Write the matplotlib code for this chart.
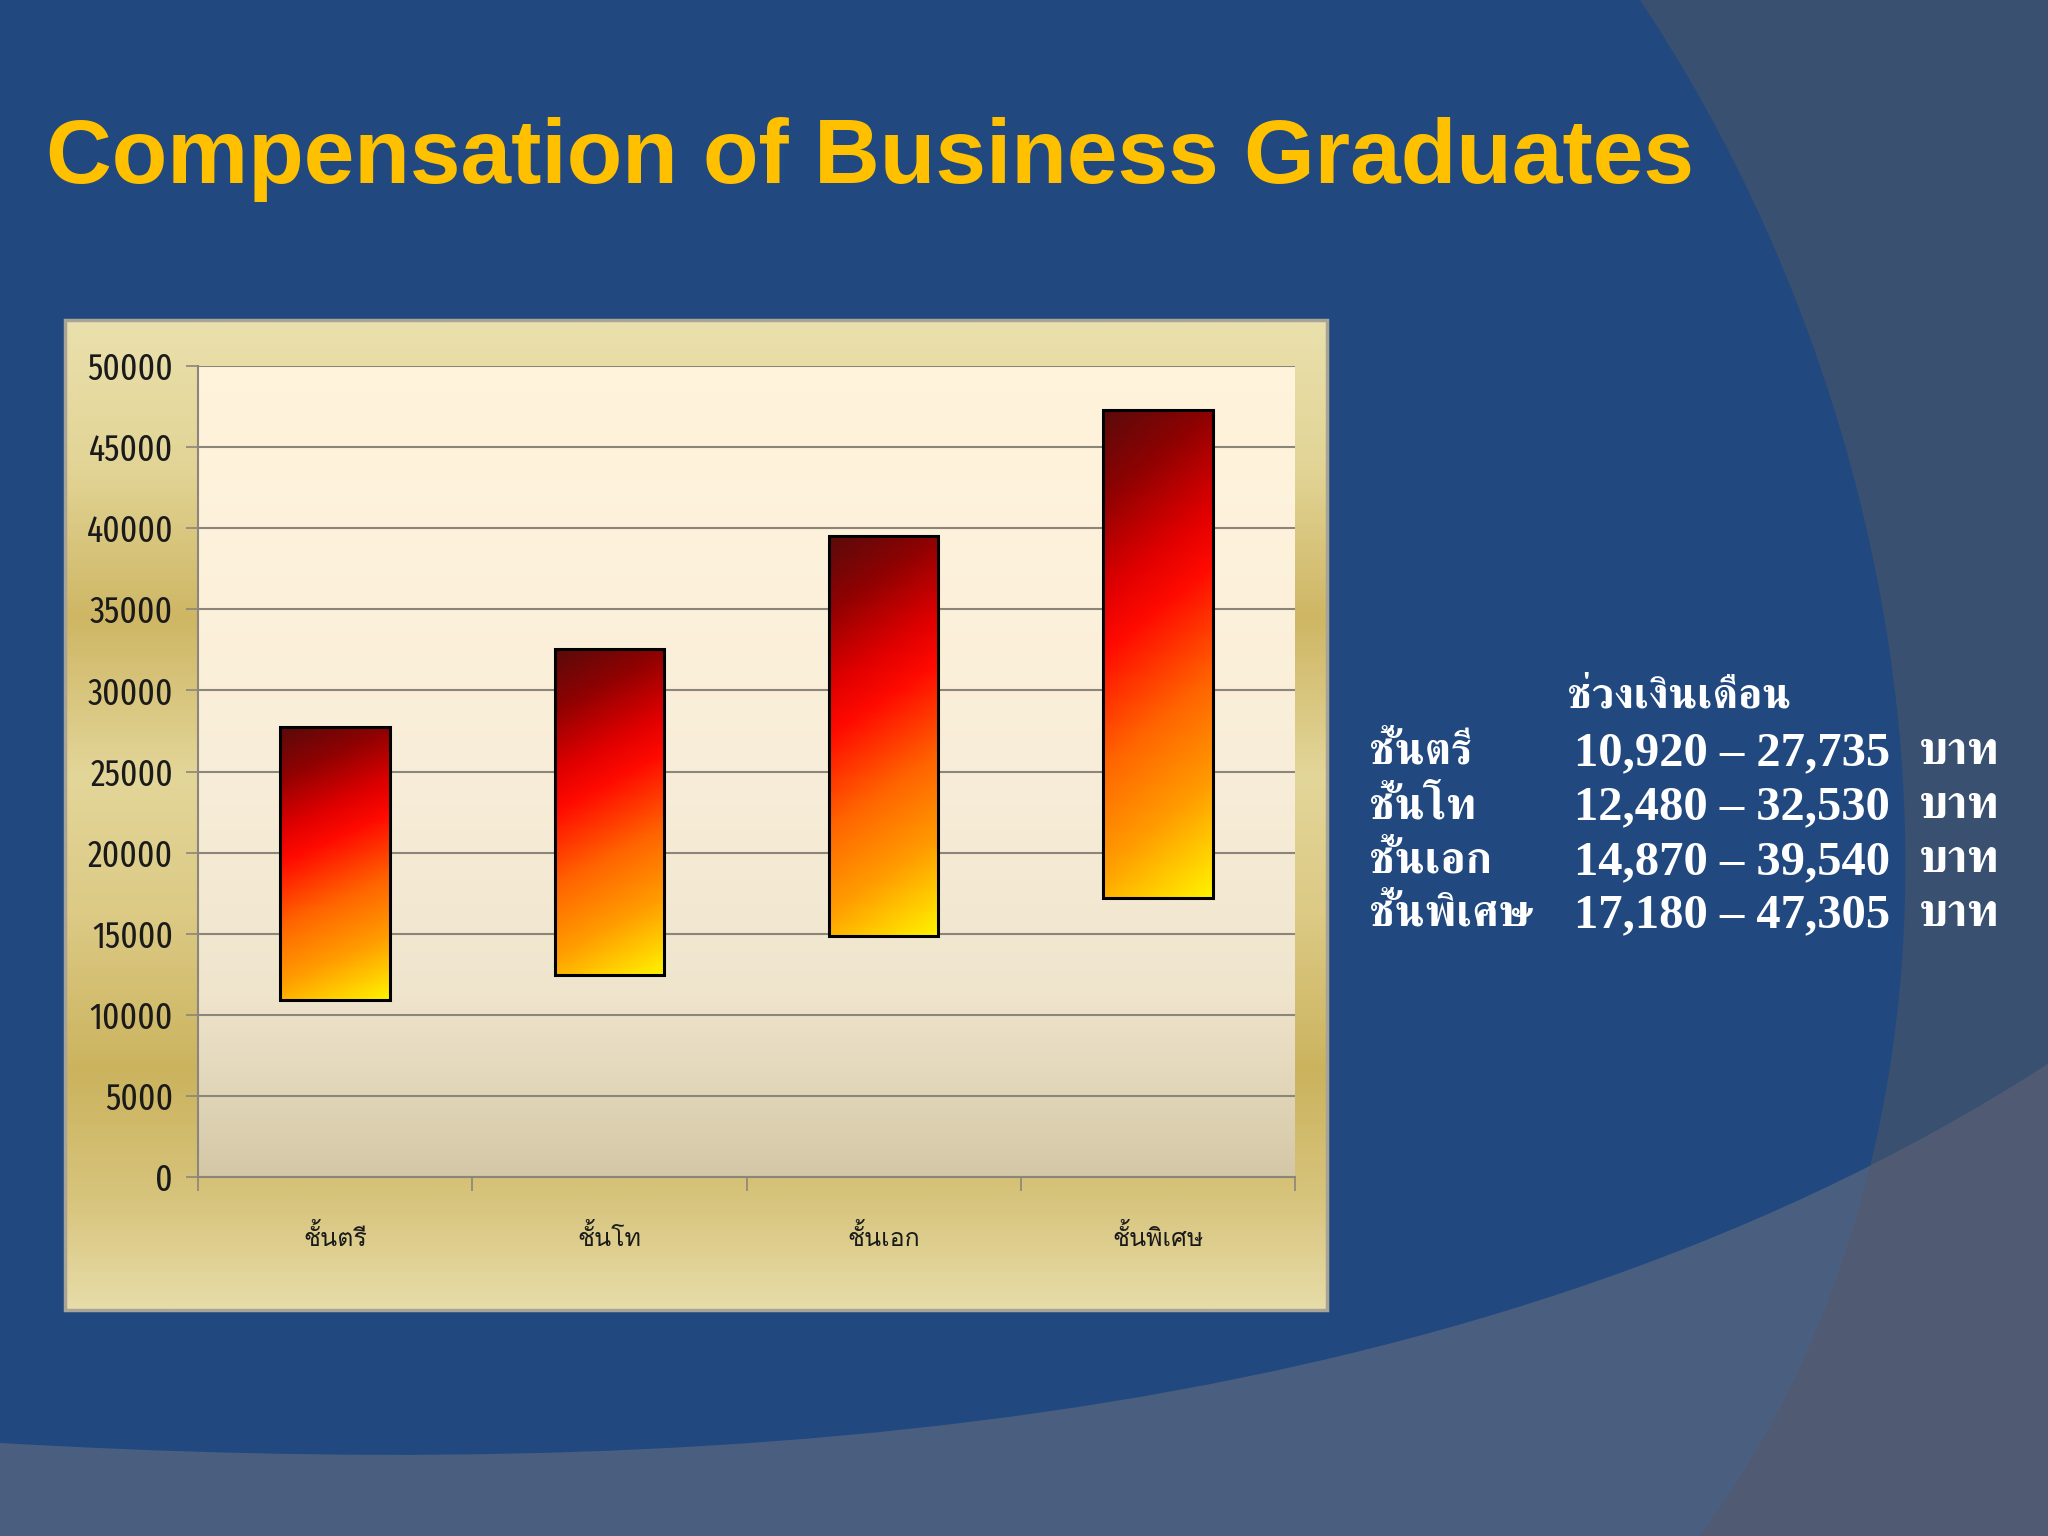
import numpy as np
import matplotlib
matplotlib.use('Agg')
import matplotlib.pyplot as plt
from matplotlib import font_manager, ft2font
from matplotlib.colors import LinearSegmentedColormap
from matplotlib.patches import Rectangle, PathPatch
from matplotlib.path import Path

# ── data ──────────────────────────────────────────────────────────────────
categories = ['ชั้นตรี', 'ชั้นโท', 'ชั้นเอก', 'ชั้นพิเศษ']
salary_low = [10920, 12480, 14870, 17180]
salary_high = [27735, 32530, 39540, 47305]
y_ticks = list(range(0, 50001, 5000))
range_header = 'ช่วงเงินเดือน'
unit_label = 'บาท'
title = 'Compensation of Business Graduates'


def pick(prefs, char=0x0E0A, fallback='DejaVu Sans'):
    # first family in prefs that is installed and has the glyph
    for name in prefs:
        try:
            path = font_manager.findfont(font_manager.FontProperties(family=name),
                                         fallback_to_default=False)
            if ft2font.FT2Font(path).get_char_index(char):
                return name
        except Exception:
            pass
    return fallback


# TLWG fonts stack the Thai tone marks without shaping, so prefer them
thai_serif = pick(['Norasi', 'Kinnari', 'FreeSerif'])
thai_label = pick(['Laksaman', 'Loma', 'Umpush', 'Garuda'])
digit_font = pick(['Fira Sans Extra Condensed', 'Barlow Condensed', 'Liberation Sans'], char=0x35)

W, H = 2048, 1536
fig = plt.figure(figsize=(W / 100, H / 100), dpi=100)

# ── slide background (pixel coords) ───────────────────────────────────────
bg = fig.add_axes([0, 0, 1, 1])
bg.set_xlim(0, W)
bg.set_ylim(H, 0)
bg.axis('off')
bg.add_patch(Rectangle((0, 0), W, H, color='#21497F', zorder=0))

C4 = Path.CURVE4
right_path = Path([(1640, 0), (1940, 450), (2020, 1100), (1700, 1536),
                   (W, H), (W, 0), (1640, 0)],
                  [Path.MOVETO, C4, C4, C4, Path.LINETO, Path.LINETO, Path.CLOSEPOLY])
band_path = Path([(0, 1443), (650, 1480), (1450, 1450), (W, 1064),
                  (W, H), (0, H), (0, 1443)],
                 [Path.MOVETO, C4, C4, C4, Path.LINETO, Path.LINETO, Path.CLOSEPOLY])
right_shape = PathPatch(right_path, facecolor='#3A5070', edgecolor='none', zorder=1)
bg.add_patch(right_shape)
bg.add_patch(PathPatch(band_path, facecolor='#4A5F80', edgecolor='none', zorder=2))
overlap = PathPatch(band_path, facecolor='#505A73', edgecolor='none', zorder=3)
bg.add_patch(overlap)
overlap.set_clip_path(right_shape)

bg.text(46, 183, title, fontsize=65.5, fontweight='bold', color='#FFC000',
        family='Liberation Sans', ha='left', va='baseline', zorder=5)

# gold panel behind the chart: vertical metallic gradient
px0, px1, py0, py1 = 65, 1327, 320, 1310
gold_cmap = LinearSegmentedColormap.from_list('gold', [
    (0.0, '#EAE0AD'), (0.15, '#E2D495'), (0.30, '#CEB664'), (0.46, '#E3D699'),
    (0.60, '#DCCA85'), (0.76, '#CBB35E'), (0.89, '#D7C47C'), (1.0, '#E7DCA8')])
bg.imshow(np.linspace(0, 1, 400)[:, None], cmap=gold_cmap, extent=(px0, px1, py1, py0),
          aspect='auto', zorder=4)
bg.add_patch(Rectangle((px0, py0), px1 - px0, py1 - py0, fill=False,
                       edgecolor='#A8A498', linewidth=2.5, zorder=6))

# ── right hand text block ─────────────────────────────────────────────────
bg.text(1567, 698, range_header, fontsize=31, color='white', family=thai_serif,
        fontweight='bold', ha='left', va='center', zorder=6)
row_y = [753, 807, 862, 915]
for i, cat in enumerate(categories):
    bg.text(1369, row_y[i], cat, fontsize=32, color='white', family=thai_serif,
            fontweight='bold', ha='left', va='center', zorder=6)
    bg.text(1574, row_y[i], f'{salary_low[i]:,} – {salary_high[i]:,}', fontsize=35,
            color='white', family='Liberation Serif', fontweight='bold',
            ha='left', va='center', zorder=6)
    bg.text(1919, row_y[i], unit_label, fontsize=34, color='white', family=thai_serif,
            fontweight='bold', ha='left', va='center', zorder=6)

# ── chart ─────────────────────────────────────────────────────────────────
ax = fig.add_axes([198 / W, 1 - 1177 / H, (1295 - 198) / W, (1177 - 366) / H])
ax.set_zorder(5)
x = np.arange(len(categories))

plot_cmap = LinearSegmentedColormap.from_list('plot', ['#FFF3DC', '#F8EDD8', '#EFE4CC', '#D5C8A7'])
grad = np.linspace(0, 1, 256)[:, None] ** 1.6
ax.imshow(grad, cmap=plot_cmap, extent=(-0.5, 3.5, 0, 50000), aspect='auto', origin='upper', zorder=0)

bar_cmap = LinearSegmentedColormap.from_list(
    'bar', [(0.0, '#5A0A0A'), (0.15, '#8E0202'), (0.32, '#E00000'), (0.42, '#FF0A00'),
            (0.62, '#FF6400'), (0.8, '#FF9C00'), (1.0, '#FFF200')])
bw = 0.4
across, down = np.meshgrid(np.linspace(0, 1, 40), np.linspace(0, 1, 200))
shade = 0.85 * down + 0.15 * across
for xi, lo, hi in zip(x, salary_low, salary_high):
    ax.imshow(shade, cmap=bar_cmap, vmin=0, vmax=1, extent=(xi - bw / 2, xi + bw / 2, lo, hi),
              aspect='auto', origin='upper', zorder=3)
ax.bar(x, np.array(salary_high) - np.array(salary_low), bottom=salary_low, width=bw,
       facecolor='none', edgecolor='black', linewidth=2.2, zorder=4)

ax.set_xlim(-0.5, 3.5)
ax.set_ylim(0, 50000)
ax.set_yticks(y_ticks)
ax.set_yticklabels([str(v) for v in y_ticks], family=digit_font, fontsize=26, color='#1A1A1A')
ax.yaxis.grid(True, color='#8C857A', linewidth=1.5, zorder=1)
ax.set_axisbelow(True)
ax.set_xticks(np.arange(-0.5, 4, 1))
ax.set_xticklabels([])
ax.set_xticks(x, minor=True)
ax.set_xticklabels(categories, minor=True, family=thai_label, fontsize=18, color='#1A1A1A')
ax.tick_params(axis='x', which='minor', length=0, pad=34)
ax.tick_params(axis='x', which='major', length=10, width=1.2, color='#8C857A')
ax.tick_params(axis='y', length=9, width=1.2, color='#8C857A', pad=9)
for s in ['top', 'right']:
    ax.spines[s].set_visible(False)
for s in ['left', 'bottom']:
    ax.spines[s].set_color('#8C857A')
    ax.spines[s].set_linewidth(1.5)

fig.savefig('out.png', dpi=100)
